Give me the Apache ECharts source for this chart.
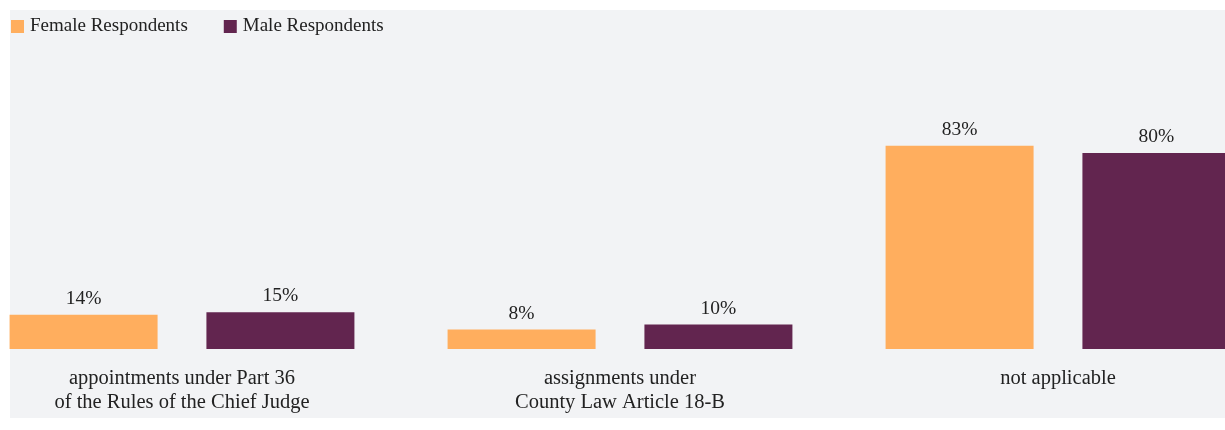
<!DOCTYPE html>
<html><head><meta charset="utf-8">
<script src="https://cdn.jsdelivr.net/npm/echarts@6/dist/echarts.min.js"></script>
<style>html,body{margin:0;padding:0;background:#fff}
#w{position:relative;width:1225px;height:430px;overflow:hidden}
#c{position:absolute;left:-37px;top:0;width:1314px;height:430px}</style>
</head><body><div id="w"><div id="c"></div></div>
<script>
const categories = ['appointments under Part 36\nof the Rules of the Chief Judge', 'assignments under\nCounty Law Article 18-B', 'not applicable'];
const femaleValues = [14, 8, 83];
const maleValues = [15, 10, 80];
const seriesNames = ['Female Respondents', 'Male Respondents'];
const FONT = '"Liberation Serif", "DejaVu Serif", serif';
const chart = echarts.init(document.getElementById('c'));
chart.setOption({
  animation: false,
  textStyle: { fontFamily: FONT },
  graphic: [{ type: 'rect', z: -10, silent: true, shape: { x: 47, y: 10, width: 1215, height: 408 }, style: { fill: '#f2f3f5' } }],
  legend: {
    left: 48, top: 17, padding: 0, itemWidth: 13, itemHeight: 13, itemGap: 36, icon: 'rect',
    textStyle: { fontFamily: FONT, fontSize: 19, color: '#222', padding: [0, 0, 0, 1] },
    data: seriesNames
  },
  grid: { left: 0, right: 0, top: 104, bottom: 81, containLabel: false },
  xAxis: {
    type: 'category', data: categories,
    axisLine: { show: false }, axisTick: { show: false },
    axisLabel: { margin: 18, fontFamily: FONT, fontSize: 20.5, color: '#222', lineHeight: 24, interval: 0 }
  },
  yAxis: { type: 'value', min: 0, max: 100, show: false, splitLine: { show: false } },
  series: [
    { name: seriesNames[0], type: 'bar', data: femaleValues, barWidth: 148, barGap: '33%',
      itemStyle: { color: '#ffae5e' },
      label: { show: true, position: 'top', distance: 6, formatter: '{c}%', fontFamily: FONT, fontSize: 19.5, color: '#222' } },
    { name: seriesNames[1], type: 'bar', data: maleValues, barWidth: 148,
      itemStyle: { color: '#62254f' },
      label: { show: true, position: 'top', distance: 6, formatter: '{c}%', fontFamily: FONT, fontSize: 19.5, color: '#222' } }
  ]
});
</script></body></html>
